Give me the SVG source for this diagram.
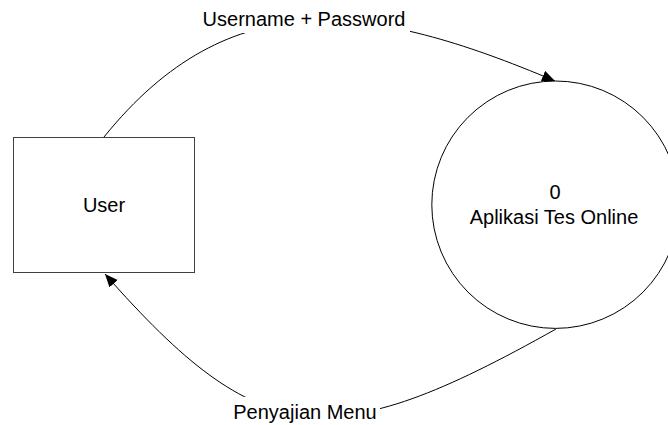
<svg xmlns="http://www.w3.org/2000/svg" width="668" height="425" viewBox="0 0 668 425">
<defs>
<marker id="arr" markerUnits="userSpaceOnUse" markerWidth="14" markerHeight="12" refX="13" refY="5.5" orient="auto">
<path d="M0,0 L13,5.5 L0,11 Z" fill="#000"/>
</marker>
<style>
.lbl{font-family:"Liberation Sans",Arial,sans-serif;font-size:20px;fill:#000;text-anchor:middle}
.flow{fill:none;stroke:#000;stroke-width:1}
</style>
</defs>
<rect width="668" height="425" fill="#fff"/>
<g id="connectors">
<path class="flow" d="M104,137 C230,-19 371,3 555,81" marker-end="url(#arr)"/>
<path class="flow" d="M556,329 C330,456 260,450 105,274" marker-end="url(#arr)"/>
<rect x="200" y="5" width="210" height="28" fill="#fff"/>
<text class="lbl" x="304" y="26">Username + Password</text>
<rect x="229" y="397" width="151" height="28" fill="#fff"/>
<text class="lbl" x="305" y="419">Penyajian Menu</text>
</g>
<g id="user">
<rect x="13.5" y="137.5" width="181" height="135" fill="#fff" stroke="#404040" stroke-width="1"/>
<text class="lbl" x="104" y="212">User</text>
</g>
<g id="process">
<circle cx="555.5" cy="204.7" r="123.7" fill="#fff" stroke="#000" stroke-width="1"/>
<text class="lbl" x="555" y="199">0</text>
<text class="lbl" x="554" y="224">Aplikasi Tes Online</text>
</g>
</svg>
